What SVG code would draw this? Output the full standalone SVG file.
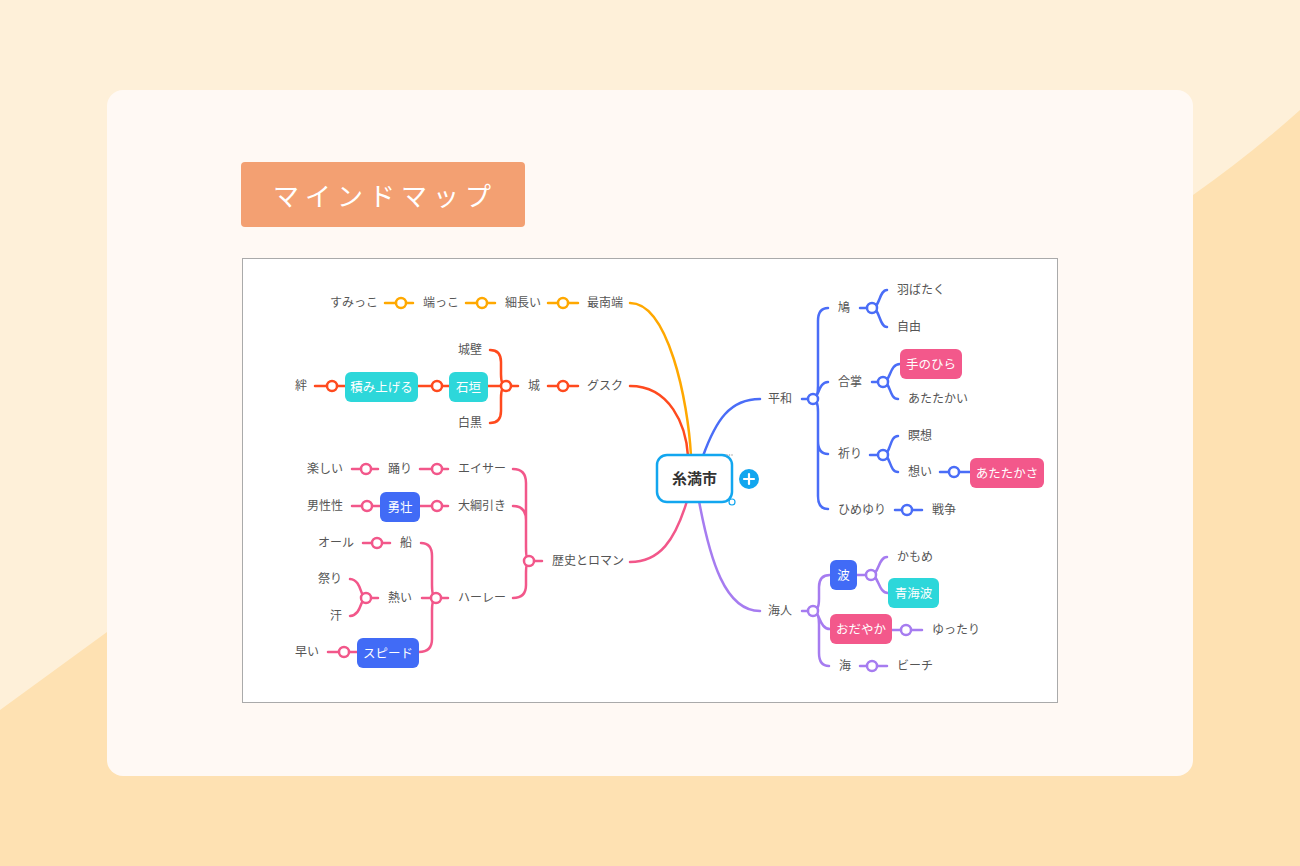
<svg xmlns="http://www.w3.org/2000/svg" width="1300" height="866" viewBox="0 0 1300 866">
<defs>
<style>
text{font-family:"Noto Sans CJK JP","Noto Sans",sans-serif;}
.t{font-size:12px;fill:#555;}
.bt{font-size:12.5px;fill:#fff;text-anchor:middle;}
.c path{fill:none;stroke-width:2.5;stroke-linecap:round;}
.o{stroke:#FFA800;} .r{stroke:#FF4A1E;} .p{stroke:#F2578A;} .b{stroke:#4A6DF7;} .v{stroke:#A67CF0;}
.k circle{fill:#fff;stroke-width:2.5;}
.teal{fill:#2DD7DA;} .blu{fill:#416BF6;} .pnk{fill:#F3588B;}
</style>
</defs>
<rect width="1300" height="866" fill="#FEF0D9"/>
<path d="M0,710 L107,632 L1193,195 Q1250,155 1300,110 L1300,866 L0,866 Z" fill="#FEE1B2"/>
<rect x="107" y="90" width="1086" height="686" rx="16" fill="#FFF9F4"/>
<g id="title">
<rect x="241" y="162" width="284" height="65" rx="4" fill="#F3A072"/>
<text x="385" y="206" font-size="26" fill="#fff" text-anchor="middle" letter-spacing="6">マインドマップ</text>
</g>
<rect x="242.5" y="258.5" width="815" height="444" fill="#fff" stroke="#AAA" stroke-width="1"/>

<g id="connectors" class="c">
<path class="o" d="M630,303 C668,303 688,400 691,456"/>
<path class="o" d="M385,303 L413,303 M466,303 L495,303 M548,303 L578,303"/>
<path class="r" d="M630,386 C670,386 686,425 688,456"/>
<path class="r" d="M548,386 L578,386 M506,386 L518,386 M488,386 L506,386 M418,386 L449,386 M315,386 L345,386"/>
<path class="r" d="M490,350 Q501,350 501,362 L501,374 Q501,386 506,386 M490,423 Q501,423 501,411 L501,398 Q501,386 506,386"/>
<path class="p" d="M630,562 C660,562 675,540 687,501"/>
<path class="p" d="M542,561 L529,561 M513,469 Q526,469 526,483 L526,547 Q526,561 529,561 M513,506 Q526,506 526,520 L526,547 Q526,561 529,561 M513,598 Q526,598 526,585 L526,574 Q526,561 529,561"/>
<path class="p" d="M352,469 L378,469 M420,469 L448,469 M352,506 L380,506 M420,506 L448,506"/>
<path class="p" d="M448,598 L436,598 M421,543 Q432,543 432,556 L432,585 Q432,598 436,598 M422,598 L436,598 M419,652 Q432,652 432,639 L432,611 Q432,598 436,598"/>
<path class="p" d="M363,543 L390,543 M378,598 L366,598 M350,579 C362,580 360,598 366,598 M350,616 C362,615 360,598 366,598 M328,652 L357,652"/>
<path class="b" d="M703,456 C716,420 730,399 760,399"/>
<path class="b" d="M802,399 L813,399 M813,399 Q818,399 818,386 L818,321 Q818,308 828,308 M813,399 C819,399 818,382 828,382 M813,399 Q818,399 818,412 L818,441 Q818,454 828,454 M813,399 Q818,399 818,412 L818,496 Q818,509 828,509"/>
<path class="b" d="M860,308 L872,308 M872,308 C880,308 879,290 887,290 M872,308 C880,308 879,327 887,327"/>
<path class="b" d="M872,382 L883,382 M883,382 C891,382 889,364 900,364 M883,382 C891,382 889,399 898,399"/>
<path class="b" d="M870,455 L883,455 M883,455 C891,455 889,436 898,436 M883,455 C891,455 889,472 898,472"/>
<path class="b" d="M940,472 L970,472 M895,510 L922,510"/>
<path class="v" d="M699,501 C710,560 725,611 760,611"/>
<path class="v" d="M802,611 L813,611 M813,611 Q819,611 819,599 L819,587 Q819,575 830,575 M813,611 C820,611 819,629 830,629 M813,611 Q819,611 819,624 L819,653 Q819,666 829,666"/>
<path class="v" d="M857,575 L871,575 M871,575 C879,575 878,557 887,557 M871,575 C879,575 878,593 888,593 M892,630 L922,630 M860,666 L887,666"/>
</g>

<g id="knobs" class="k">
<g stroke="#FFA800"><circle cx="401" cy="303" r="5"/><circle cx="482" cy="303" r="5"/><circle cx="563" cy="303" r="5"/></g>
<g stroke="#FF4A1E"><circle cx="563" cy="386" r="5"/><circle cx="506" cy="386" r="5"/><circle cx="437" cy="386" r="5"/><circle cx="332" cy="386" r="5"/></g>
<g stroke="#F2578A"><circle cx="529" cy="561" r="5"/><circle cx="366" cy="469" r="5"/><circle cx="437" cy="469" r="5"/><circle cx="367" cy="506" r="5"/><circle cx="437" cy="506" r="5"/><circle cx="436" cy="598" r="5"/><circle cx="377" cy="543" r="5"/><circle cx="366" cy="598" r="5"/><circle cx="344" cy="652" r="5"/></g>
<g stroke="#4A6DF7"><circle cx="813" cy="399" r="5"/><circle cx="872" cy="308" r="5"/><circle cx="883" cy="382" r="5"/><circle cx="883" cy="455" r="5"/><circle cx="954" cy="472" r="5"/><circle cx="907" cy="510" r="5"/></g>
<g stroke="#A67CF0"><circle cx="813" cy="611" r="5"/><circle cx="871" cy="575" r="5"/><circle cx="906" cy="630" r="5"/><circle cx="872" cy="666" r="5"/></g>
</g>

<g id="center">
<rect x="657" y="455" width="75" height="47" rx="10" fill="#fff" stroke="#12A6EF" stroke-width="2.5"/>
<text x="694.5" y="484" font-size="15" font-weight="bold" fill="#333" text-anchor="middle">糸満市</text>
<g fill="#AAA"><circle cx="727" cy="455" r="0.8"/><circle cx="729.5" cy="455" r="0.8"/><circle cx="732" cy="455" r="0.8"/></g>
<circle cx="732" cy="502" r="3" fill="#fff" stroke="#12A6EF" stroke-width="1.2"/>
<circle cx="749" cy="479" r="10" fill="#12A6EF"/>
<path d="M744,479 H754 M749,474 V484" stroke="#fff" stroke-width="2.2" stroke-linecap="round"/>
</g>

<g id="n-sumikko"><text class="t" x="330" y="307">すみっこ</text></g>
<g id="n-hashikko"><text class="t" x="423" y="307">端っこ</text></g>
<g id="n-hosonagai"><text class="t" x="505" y="307">細長い</text></g>
<g id="n-sainantan"><text class="t" x="587" y="307">最南端</text></g>
<g id="n-jouheki"><text class="t" x="458" y="354">城壁</text></g>
<g id="n-shirokuro"><text class="t" x="458" y="427">白黒</text></g>
<g id="n-kizuna"><text class="t" x="295" y="390">絆</text></g>
<g id="n-tsumiageru"><rect class="teal" x="345" y="372" width="73" height="30" rx="6"/><text class="bt" x="381.5" y="391.5">積み上げる</text></g>
<g id="n-ishigaki"><rect class="teal" x="449" y="372" width="39" height="30" rx="6"/><text class="bt" x="468.5" y="391.5">石垣</text></g>
<g id="n-shiro"><text class="t" x="528" y="390">城</text></g>
<g id="n-gusuku"><text class="t" x="587" y="390">グスク</text></g>
<g id="n-tanoshii"><text class="t" x="307" y="473">楽しい</text></g>
<g id="n-odori"><text class="t" x="388" y="473">踊り</text></g>
<g id="n-eisa"><text class="t" x="458" y="473">エイサー</text></g>
<g id="n-danseisei"><text class="t" x="307" y="510">男性性</text></g>
<g id="n-yuusou"><rect class="blu" x="380" y="492" width="40" height="30" rx="6"/><text class="bt" x="400" y="511.5">勇壮</text></g>
<g id="n-ootsunahiki"><text class="t" x="458" y="510">大綱引き</text></g>
<g id="n-ooru"><text class="t" x="318" y="547">オール</text></g>
<g id="n-fune"><text class="t" x="400" y="547">船</text></g>
<g id="n-matsuri"><text class="t" x="318" y="583">祭り</text></g>
<g id="n-ase"><text class="t" x="330" y="620">汗</text></g>
<g id="n-atsui"><text class="t" x="388" y="602">熱い</text></g>
<g id="n-haaree"><text class="t" x="458" y="602">ハーレー</text></g>
<g id="n-hayai"><text class="t" x="295" y="656">早い</text></g>
<g id="n-speed"><rect class="blu" x="357" y="638" width="62" height="30" rx="6"/><text class="bt" x="388" y="657.5">スピード</text></g>
<g id="n-rekishi"><text class="t" x="552" y="565">歴史とロマン</text></g>

<g id="n-heiwa"><text class="t" x="768" y="403">平和</text></g>
<g id="n-hato"><text class="t" x="838" y="312">鳩</text></g>
<g id="n-habataku"><text class="t" x="897" y="294">羽ばたく</text></g>
<g id="n-jiyuu"><text class="t" x="897" y="331">自由</text></g>
<g id="n-gasshou"><text class="t" x="838" y="386">合掌</text></g>
<g id="n-tenohira"><rect class="pnk" x="900" y="349" width="62" height="30" rx="6"/><text class="bt" x="931" y="368.5">手のひら</text></g>
<g id="n-atatakai"><text class="t" x="908" y="403">あたたかい</text></g>
<g id="n-inori"><text class="t" x="838" y="458">祈り</text></g>
<g id="n-meisou"><text class="t" x="908" y="440">瞑想</text></g>
<g id="n-omoi"><text class="t" x="908" y="476">想い</text></g>
<g id="n-atatakasa"><rect class="pnk" x="970" y="458" width="74" height="30" rx="6"/><text class="bt" x="1007" y="477.5">あたたかさ</text></g>
<g id="n-himeyuri"><text class="t" x="838" y="514">ひめゆり</text></g>
<g id="n-sensou"><text class="t" x="932" y="514">戦争</text></g>
<g id="n-umanchu"><text class="t" x="768" y="615">海人</text></g>
<g id="n-nami"><rect class="blu" x="830" y="560" width="27" height="30" rx="6"/><text class="bt" x="843.5" y="579.5">波</text></g>
<g id="n-kamome"><text class="t" x="897" y="561">かもめ</text></g>
<g id="n-seigaiha"><rect class="teal" x="888" y="578" width="51" height="30" rx="6"/><text class="bt" x="913.5" y="597.5">青海波</text></g>
<g id="n-odayaka"><rect class="pnk" x="830" y="614" width="62" height="30" rx="6"/><text class="bt" x="861" y="633.5">おだやか</text></g>
<g id="n-yuttari"><text class="t" x="932" y="634">ゆったり</text></g>
<g id="n-umi"><text class="t" x="839" y="670">海</text></g>
<g id="n-beach"><text class="t" x="897" y="670">ビーチ</text></g>
</svg>
